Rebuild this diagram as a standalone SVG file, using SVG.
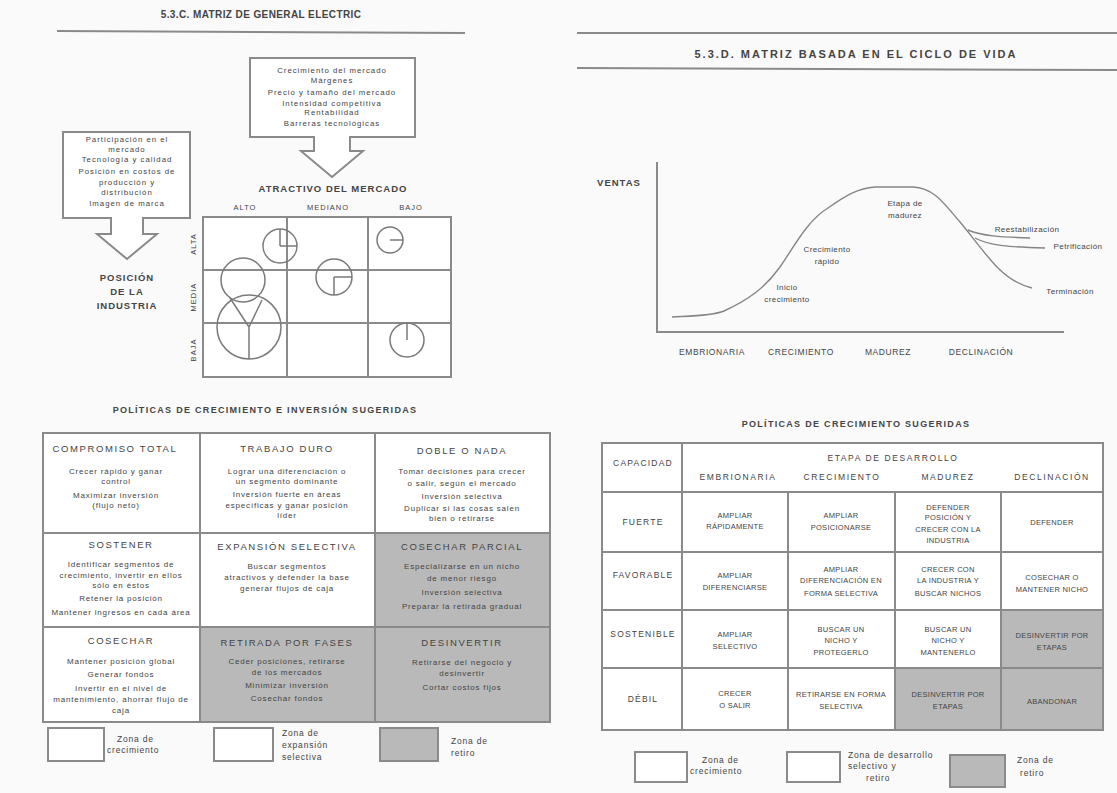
<svg xmlns="http://www.w3.org/2000/svg" width="1117" height="793" viewBox="0 0 1117 793">
<style>
text{font-family:"Liberation Sans",Arial,sans-serif;fill:#444;text-anchor:middle}
.t{font-size:10px;font-weight:bold;letter-spacing:0.4px}
.t2{font-size:11px;font-weight:bold;letter-spacing:2px}
.tt{font-size:9px;font-weight:bold;letter-spacing:1.3px}
.h{font-size:9.5px;letter-spacing:1.6px}
.lab{font-size:9.5px;font-weight:bold;letter-spacing:1px}
.b{font-size:8px;letter-spacing:0.8px}
.c{font-size:7.8px;letter-spacing:1px}
.m{font-size:7.5px;letter-spacing:0.3px}
.rh{font-size:8.5px;letter-spacing:1.2px}
.sh{font-size:8.5px;letter-spacing:1.6px}
.g{font-size:8px;letter-spacing:0.4px}
.ax{font-size:8.5px;letter-spacing:0.6px}
.ah{font-size:7.5px;letter-spacing:1px}
.l{font-size:8.5px;letter-spacing:0.8px;text-anchor:start}
.ln{stroke:#8a8a8a;stroke-width:2;fill:none}
.thin{stroke:#858585;stroke-width:1.4;fill:none}
.cell{fill:#ffffff;stroke:#8a8a8a;stroke-width:2}
.shade{fill:#b9b9b9;stroke:#8a8a8a;stroke-width:2}
.box{fill:#ffffff;stroke:#8a8a8a;stroke-width:2}
.bub{fill:none;stroke:#7a7a7a;stroke-width:1.5}
</style>
<rect width="1117" height="793" fill="#fafafa"/>

<!-- LEFT: GE matrix -->
<g id="title-ge">
<text class="t" x="261" y="18">5.3.C. MATRIZ DE GENERAL ELECTRIC</text>
<line class="ln" x1="57" y1="31" x2="465" y2="33"/>
</g>

<g id="callout-mercado">
<path class="box" d="M250,58 H415 V137 H350 V151 H363 L332,177 L301,151 H314 V137 H250 Z"/>
<text class="c" x="332" y="73">Crecimiento del mercado</text>
<text class="c" x="332" y="83">Márgenes</text>
<text class="c" x="332" y="95">Precio y tamaño del mercado</text>
<text class="c" x="332" y="106">Intensidad competitiva</text>
<text class="c" x="332" y="115">Rentabilidad</text>
<text class="c" x="332" y="126">Barreras tecnológicas</text>
<text class="lab" x="333" y="192">ATRACTIVO DEL MERCADO</text>
</g>

<g id="callout-posicion">
<path class="box" d="M63,132 H190 V218 H143 V234 H157 L127,259 L97,234 H111 V218 H63 Z"/>
<text class="c" x="127" y="142">Participación en el</text>
<text class="c" x="127" y="152">mercado</text>
<text class="c" x="127" y="162">Tecnología y calidad</text>
<text class="c" x="127" y="174">Posición en costos de</text>
<text class="c" x="127" y="185">producción y</text>
<text class="c" x="127" y="195">distribución</text>
<text class="c" x="127" y="206">Imagen de marca</text>
<text class="lab" x="127" y="281">POSICIÓN</text>
<text class="lab" x="127" y="295">DE LA</text>
<text class="lab" x="127" y="309">INDUSTRIA</text>
</g>

<g id="bubble-chart">
<text class="ah" x="245" y="210">ALTO</text>
<text class="ah" x="328" y="210">MEDIANO</text>
<text class="ah" x="411" y="210">BAJO</text>
<rect x="203" y="217" width="248" height="160" fill="#ffffff" stroke="#8a8a8a" stroke-width="2"/>
<line class="ln" x1="287" y1="217" x2="287" y2="377"/>
<line class="ln" x1="368" y1="217" x2="368" y2="377"/>
<line class="ln" x1="203" y1="270" x2="451" y2="270"/>
<line class="ln" x1="203" y1="323" x2="451" y2="323"/>
<text class="ah" transform="translate(196,244) rotate(-90)">ALTA</text>
<text class="ah" transform="translate(196,297) rotate(-90)">MEDIA</text>
<text class="ah" transform="translate(196,350) rotate(-90)">BAJA</text>
<circle class="bub" cx="280" cy="246" r="17"/>
<path class="bub" d="M280,246 V229 M280,246 H297"/>
<circle class="bub" cx="390" cy="240" r="13"/>
<path class="bub" d="M390,240 H403"/>
<circle class="bub" cx="334" cy="277" r="18"/>
<path class="bub" d="M334,277 V295 M334,277 H352"/>
<circle class="bub" cx="243" cy="280" r="22"/>
<circle class="bub" cx="249" cy="327" r="32"/>
<path class="bub" d="M249,327 V359 M249,327 L230,298 M249,327 L262,300"/>
<circle class="bub" cx="407" cy="340" r="17"/>
<path class="bub" d="M407,340 V323"/>
</g>

<g id="table-ge">
<text class="tt" x="265" y="413">POLÍTICAS DE CRECIMIENTO E INVERSIÓN SUGERIDAS</text>
<rect class="cell" x="43" y="433" width="157" height="100"/>
<rect class="cell" x="200" y="433" width="175" height="100"/>
<rect class="cell" x="375" y="433" width="175" height="100"/>
<rect class="cell" x="43" y="533" width="157" height="94"/>
<rect class="cell" x="200" y="533" width="175" height="94"/>
<rect class="shade" x="375" y="533" width="175" height="94"/>
<rect class="cell" x="43" y="627" width="157" height="95"/>
<rect class="shade" x="200" y="627" width="175" height="95"/>
<rect class="shade" x="375" y="627" width="175" height="95"/>
</g>

<g id="cell-compromiso">
<text class="h" x="115" y="452">COMPROMISO TOTAL</text>
<text class="b" x="116" y="474">Crecer rápido y ganar</text>
<text class="b" x="116" y="484">control</text>
<text class="b" x="116" y="498">Maximizar inversión</text>
<text class="b" x="116" y="508">(flujo neto)</text>
</g>
<g id="cell-trabajo">
<text class="h" x="287" y="452">TRABAJO DURO</text>
<text class="b" x="287" y="474">Lograr una diferenciación o</text>
<text class="b" x="287" y="484">un segmento dominante</text>
<text class="b" x="287" y="497">Inversión fuerte en áreas</text>
<text class="b" x="287" y="508">específicas y ganar posición</text>
<text class="b" x="287" y="518">líder</text>
</g>
<g id="cell-doble">
<text class="h" x="462" y="454">DOBLE O NADA</text>
<text class="b" x="462" y="474">Tomar decisiones para crecer</text>
<text class="b" x="462" y="486">o salir, según el mercado</text>
<text class="b" x="462" y="499">Inversión selectiva</text>
<text class="b" x="462" y="511">Duplicar si las cosas salen</text>
<text class="b" x="462" y="521">bien o retirarse</text>
</g>
<g id="cell-sostener">
<text class="h" x="121" y="548">SOSTENER</text>
<text class="b" x="121" y="567">Identificar segmentos de</text>
<text class="b" x="121" y="578">crecimiento, invertir en ellos</text>
<text class="b" x="121" y="588">sólo en éstos</text>
<text class="b" x="121" y="601">Retener la posición</text>
<text class="b" x="121" y="615">Mantener ingresos en cada área</text>
</g>
<g id="cell-expansion">
<text class="h" x="287" y="550">EXPANSIÓN SELECTIVA</text>
<text class="b" x="287" y="569">Buscar segmentos</text>
<text class="b" x="287" y="580">atractivos y defender la base</text>
<text class="b" x="287" y="591">generar flujos de caja</text>
</g>
<g id="cell-cosechar-parcial">
<text class="h" x="462" y="550">COSECHAR PARCIAL</text>
<text class="b" x="462" y="569">Especializarse en un nicho</text>
<text class="b" x="462" y="581">de menor riesgo</text>
<text class="b" x="462" y="595">Inversión selectiva</text>
<text class="b" x="462" y="609">Preparar la retirada gradual</text>
</g>
<g id="cell-cosechar">
<text class="h" x="121" y="644">COSECHAR</text>
<text class="b" x="121" y="664">Mantener posición global</text>
<text class="b" x="121" y="677">Generar fondos</text>
<text class="b" x="121" y="691">Invertir en el nivel de</text>
<text class="b" x="121" y="702">mantenimiento, ahorrar flujo de</text>
<text class="b" x="121" y="713">caja</text>
</g>
<g id="cell-retirada">
<text class="h" x="287" y="646">RETIRADA POR FASES</text>
<text class="b" x="287" y="664">Ceder posiciones, retirarse</text>
<text class="b" x="287" y="675">de los mercados</text>
<text class="b" x="287" y="688">Minimizar inversión</text>
<text class="b" x="287" y="701">Cosechar fondos</text>
</g>
<g id="cell-desinvertir">
<text class="h" x="462" y="646">DESINVERTIR</text>
<text class="b" x="462" y="665">Retirarse del negocio y</text>
<text class="b" x="462" y="676">desinvertir</text>
<text class="b" x="462" y="690">Cortar costos fijos</text>
</g>

<g id="legend-ge">
<rect class="box" x="48" y="728" width="56" height="33"/>
<text class="l" x="117" y="742">Zona de</text>
<text class="l" x="107" y="753">crecimiento</text>
<rect class="box" x="214" y="728" width="59" height="33"/>
<text class="l" x="282" y="736">Zona de</text>
<text class="l" x="282" y="748">expansión</text>
<text class="l" x="282" y="760">selectiva</text>
<rect class="shade" x="380" y="728" width="58" height="33"/>
<text class="l" x="451" y="744">Zona de</text>
<text class="l" x="451" y="756">retiro</text>
</g>

<!-- RIGHT: life cycle -->
<g id="title-ciclo">
<line class="ln" x1="577" y1="33" x2="1117" y2="33"/>
<text class="t2" x="856" y="58">5.3.D. MATRIZ BASADA EN EL CICLO DE VIDA</text>
<line class="ln" x1="577" y1="68" x2="1117" y2="70"/>
</g>

<g id="lifecycle-chart">
<text class="lab" x="619" y="186">VENTAS</text>
<line class="ln" x1="657" y1="162" x2="657" y2="332"/>
<line class="ln" x1="656" y1="332" x2="1064" y2="332"/>
<path class="thin" d="M672,317 C690,316 712,316 724,311 C748,300 765,288 780,267 C795,245 808,220 828,208 C845,196 858,188 875,187 L913,187 C935,188 945,205 960,222 C972,236 985,255 998,268 C1010,280 1020,285 1032,288"/>
<path class="thin" d="M968,230 C982,236 1000,237 1030,238"/>
<path class="thin" d="M975,238 C990,246 1010,247 1045,248"/>
<text class="g" x="787" y="290">Inicio</text>
<text class="g" x="787" y="302">crecimiento</text>
<text class="g" x="827" y="252">Crecimiento</text>
<text class="g" x="827" y="264">rápido</text>
<text class="g" x="905" y="206">Etapa de</text>
<text class="g" x="905" y="218">madurez</text>
<text class="g" x="1027" y="232">Reestabilización</text>
<text class="g" x="1078" y="249">Petrificación</text>
<text class="g" x="1070" y="294">Terminación</text>
<text class="ax" x="712" y="355">EMBRIONARIA</text>
<text class="ax" x="801" y="355">CRECIMIENTO</text>
<text class="ax" x="888" y="355">MADUREZ</text>
<text class="ax" x="981" y="355">DECLINACIÓN</text>
</g>

<g id="table-ciclo">
<text class="tt" x="856" y="427">POLÍTICAS DE CRECIMIENTO SUGERIDAS</text>
<rect class="cell" x="602" y="443" width="80" height="49"/>
<rect class="cell" x="682" y="443" width="421" height="49"/>
<text class="rh" x="643" y="466">CAPACIDAD</text>
<text class="sh" x="893" y="461">ETAPA DE DESARROLLO</text>
<text class="sh" x="738" y="480">EMBRIONARIA</text>
<text class="sh" x="842" y="480">CRECIMIENTO</text>
<text class="sh" x="948" y="480">MADUREZ</text>
<text class="sh" x="1052" y="480">DECLINACIÓN</text>
<rect class="cell" x="602" y="492" width="80" height="60"/>
<rect class="cell" x="682" y="492" width="106" height="60"/>
<rect class="cell" x="788" y="492" width="107" height="60"/>
<rect class="cell" x="895" y="492" width="106" height="60"/>
<rect class="cell" x="1001" y="492" width="102" height="60"/>
<rect class="cell" x="602" y="552" width="80" height="58"/>
<rect class="cell" x="682" y="552" width="106" height="58"/>
<rect class="cell" x="788" y="552" width="107" height="58"/>
<rect class="cell" x="895" y="552" width="106" height="58"/>
<rect class="cell" x="1001" y="552" width="102" height="58"/>
<rect class="cell" x="602" y="610" width="80" height="58"/>
<rect class="cell" x="682" y="610" width="106" height="58"/>
<rect class="cell" x="788" y="610" width="107" height="58"/>
<rect class="cell" x="895" y="610" width="106" height="58"/>
<rect class="shade" x="1001" y="610" width="102" height="58"/>
<rect class="cell" x="602" y="668" width="80" height="62"/>
<rect class="cell" x="682" y="668" width="106" height="62"/>
<rect class="cell" x="788" y="668" width="107" height="62"/>
<rect class="shade" x="895" y="668" width="106" height="62"/>
<rect class="shade" x="1001" y="668" width="102" height="62"/>
</g>

<g id="row-fuerte">
<text class="rh" x="643" y="525">FUERTE</text>
<text class="m" x="735" y="518">AMPLIAR</text>
<text class="m" x="735" y="529">RÁPIDAMENTE</text>
<text class="m" x="841" y="518">AMPLIAR</text>
<text class="m" x="841" y="530">POSICIONARSE</text>
<text class="m" x="948" y="510">DEFENDER</text>
<text class="m" x="948" y="520">POSICIÓN Y</text>
<text class="m" x="948" y="532">CRECER CON LA</text>
<text class="m" x="948" y="543">INDUSTRIA</text>
<text class="m" x="1052" y="525">DEFENDER</text>
</g>
<g id="row-favorable">
<text class="rh" x="643" y="578">FAVORABLE</text>
<text class="m" x="735" y="578">AMPLIAR</text>
<text class="m" x="735" y="590">DIFERENCIARSE</text>
<text class="m" x="841" y="572">AMPLIAR</text>
<text class="m" x="841" y="583">DIFERENCIACIÓN EN</text>
<text class="m" x="841" y="596">FORMA SELECTIVA</text>
<text class="m" x="948" y="572">CRECER CON</text>
<text class="m" x="948" y="583">LA INDUSTRIA Y</text>
<text class="m" x="948" y="596">BUSCAR NICHOS</text>
<text class="m" x="1052" y="580">COSECHAR O</text>
<text class="m" x="1052" y="592">MANTENER NICHO</text>
</g>
<g id="row-sostenible">
<text class="rh" x="643" y="637">SOSTENIBLE</text>
<text class="m" x="735" y="637">AMPLIAR</text>
<text class="m" x="735" y="649">SELECTIVO</text>
<text class="m" x="841" y="632">BUSCAR UN</text>
<text class="m" x="841" y="643">NICHO Y</text>
<text class="m" x="841" y="655">PROTEGERLO</text>
<text class="m" x="948" y="632">BUSCAR UN</text>
<text class="m" x="948" y="643">NICHO Y</text>
<text class="m" x="948" y="655">MANTENERLO</text>
<text class="m" x="1052" y="638">DESINVERTIR POR</text>
<text class="m" x="1052" y="650">ETAPAS</text>
</g>
<g id="row-debil">
<text class="rh" x="643" y="702">DÉBIL</text>
<text class="m" x="735" y="696">CRECER</text>
<text class="m" x="735" y="708">O SALIR</text>
<text class="m" x="841" y="697">RETIRARSE EN FORMA</text>
<text class="m" x="841" y="709">SELECTIVA</text>
<text class="m" x="948" y="697">DESINVERTIR POR</text>
<text class="m" x="948" y="709">ETAPAS</text>
<text class="m" x="1052" y="704">ABANDONAR</text>
</g>

<g id="legend-ciclo">
<rect class="box" x="635" y="752" width="52" height="30"/>
<text class="l" x="702" y="763">Zona de</text>
<text class="l" x="690" y="774">crecimiento</text>
<rect class="box" x="787" y="752" width="53" height="30"/>
<text class="l" x="848" y="758">Zona de desarrollo</text>
<text class="l" x="848" y="769">selectivo y</text>
<text class="l" x="866" y="781">retiro</text>
<rect class="shade" x="950" y="755" width="55" height="32"/>
<text class="l" x="1017" y="763">Zona de</text>
<text class="l" x="1020" y="776">retiro</text>
</g>
</svg>
